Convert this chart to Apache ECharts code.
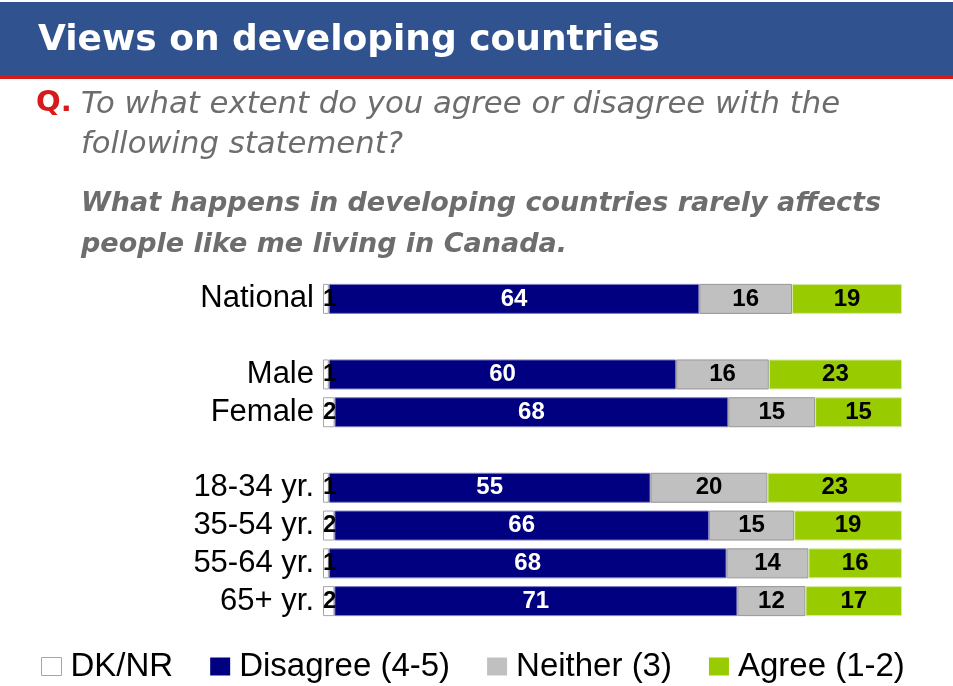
<!DOCTYPE html>
<html>
<head>
<meta charset="utf-8">
<script src="https://cdn.jsdelivr.net/npm/echarts@6/dist/echarts.min.js"></script>
<style>
  html, body { margin: 0; padding: 0; background: #fff; }
  #chart { width: 953px; height: 686px; }
</style>
</head>
<body>
<div id="chart"></div>
<script>
// rows, with blank spacer rows between the groups
const categories = ['National', ' ', 'Male', 'Female', '  ', '18-34 yr.', '35-54 yr.', '55-64 yr.', '65+ yr.']
const dkNr     = [1, null, 1, 2, null, 1, 2, 1, 2]
const disagree = [64, null, 60, 68, null, 55, 66, 68, 71]
const neither  = [16, null, 16, 15, null, 20, 15, 14, 12]
const agree    = [19, null, 23, 15, null, 23, 19, 16, 17]

const seriesNames = ['DK/NR', 'Disagree (4-5)', 'Neither (3)', 'Agree (1-2)']
const rawSets = [dkNr, disagree, neither, agree]

// every bar fills the full width (100% stacked), labels keep the raw numbers
const totals = categories.map((c, i) => rawSets.reduce((s, arr) => s + (arr[i] || 0), 0))
const toShare = arr => arr.map((v, i) => v == null ? '-' : { value: v / totals[i] * 100, raw: v })

const chart = echarts.init(document.getElementById('chart'))

const fill = ['#ffffff', '#000080', '#c0c0c0', '#99cc00']
const edge = ['#a6a6a6', '#7f7fbf', '#969696', '#d6eaa3']
const labelColor = ['#000', '#fff', '#000', '#000']

const series = rawSets.map((arr, k) => ({
  name: seriesNames[k],
  type: 'bar',
  stack: 'total',
  barWidth: 30,
  data: toShare(arr),
  itemStyle: { color: fill[k], borderColor: edge[k], borderWidth: 1 },
  label: {
    show: true,
    position: k === 0 ? 'insideLeft' : 'inside',
    distance: 0,
    fontFamily: 'Arial, Liberation Sans',
    fontWeight: 'bold',
    fontSize: 24,
    color: labelColor[k],
    formatter: p => p.data && p.data.raw != null ? p.data.raw : ''
  }
}))

const option = {
  animation: false,
  backgroundColor: '#fff',
  graphic: [
    { type: 'rect', shape: { x: 0, y: 2, width: 953, height: 73 }, style: { fill: '#30528f' } },
    { type: 'rect', shape: { x: 0, y: 75, width: 953, height: 4 }, style: { fill: '#d71a1a' } },
    { type: 'text', left: 38, top: 23, style: { text: 'Views on developing countries', fill: '#fff', font: 'bold 36px "DejaVu Sans"' } },
    { type: 'text', left: 36, top: 89, style: { text: 'Q.', fill: '#d71a1a', font: 'bold 29px "DejaVu Sans"' } },
    { type: 'text', left: 81, top: 85, style: { text: 'To what extent do you agree or disagree with the\nfollowing statement?', fill: '#6d6d6d', font: 'italic 30.7px "DejaVu Sans"', lineHeight: 40 } },
    { type: 'text', left: 81, top: 183, style: { text: 'What happens in developing countries rarely affects\npeople like me living in Canada.', fill: '#6d6d6d', font: 'italic bold 27px "DejaVu Sans"', lineHeight: 41 } }
  ],
  legend: {
    left: 36,
    top: 645,
    itemWidth: 20,
    itemHeight: 18,
    itemGap: 37,
    icon: 'rect',
    textStyle: { fontFamily: 'Arial, Liberation Sans', fontSize: 33, color: '#000', padding: [0, 0, 0, 4] },
    data: seriesNames.map((n, k) => ({
      name: n,
      itemStyle: { color: fill[k], borderColor: k === 0 ? '#a6a6a6' : fill[k], borderWidth: k === 0 ? 1 : 0 }
    }))
  },
  grid: { left: 323, right: 51, top: 280, height: 340, containLabel: false },
  xAxis: { type: 'value', min: 0, max: 100, show: false },
  yAxis: {
    type: 'category',
    inverse: true,
    data: categories,
    axisLine: { show: false },
    axisTick: { show: false },
    axisLabel: { interval: 0, margin: 9, fontFamily: 'Arial, Liberation Sans', fontSize: 31, color: '#000' }
  },
  series: series
}

chart.setOption(option)
</script>
</body>
</html>
